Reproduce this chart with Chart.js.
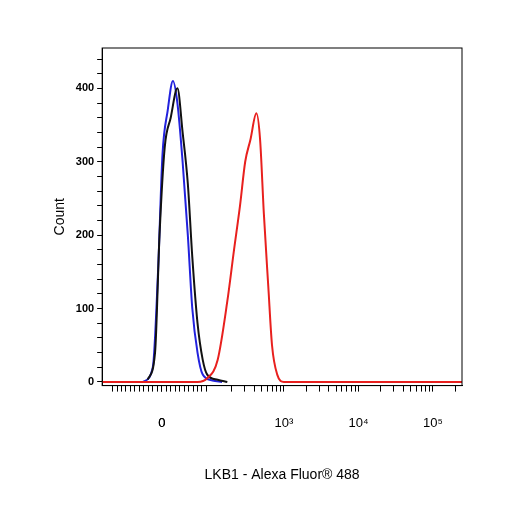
<!DOCTYPE html><html><head><script src="https://cdn.jsdelivr.net/npm/chart.js@4"></script>
<style>body{margin:0;background:#fff}#w{width:506px;height:506px}</style></head><body><div id="w"><canvas id="c"></canvas></div>
<script>
// x in decades of fluorescence (display units)
const blueX=[1.11,1.24,1.31,1.37,1.44,1.51,1.57,1.64,1.71,1.77,1.84,1.91,2.04,2.17];
const blueY=[0,20,150,310,370,410,380,300,200,100,40,10,2,0];
const blackX=[1.17,1.27,1.33,1.40,1.48,1.57,1.64,1.71,1.77,1.84,1.91,1.97,2.11,2.24];
const blackY=[3,40,200,320,360,400,340,270,170,80,30,10,3,0];
const redX=[1.84,1.97,2.11,2.24,2.33,2.41,2.48,2.55,2.63,2.68,2.73,2.79,2.84,2.91,3.0];
const redY=[0,5,30,110,180,240,300,330,366,330,230,130,50,10,0];
const xTickVals=[1.36,3,4,5];
const xTickLabels=['0','10³','10⁴','10⁵'];
const yTicks=[0,100,200,300,400];
const pts=(xs,ys)=>xs.map((x,i)=>({x,y:ys[i]}));
const minor=[];
[2,3,4].forEach(d=>{for(let k=2;k<=9;k++)minor.push(d+Math.log10(k));});
for(let v=0.7;v<2.0;v+=0.06)minor.push(+v.toFixed(2));
const allX=[...xTickVals,...minor,5+Math.log10(2)];
const frame={id:'frame',afterDraw(ch){const a=ch.chartArea,c=ch.ctx;c.save();c.strokeStyle='#000';c.lineWidth=1;c.strokeRect(a.left,a.top,a.right-a.left,a.bottom-a.top);c.restore();}};
const ds=(d,col)=>({data:d,borderColor:col,borderWidth:2,pointRadius:0,tension:0.25,cubicInterpolationMode:'monotone',fill:false});
new Chart(document.getElementById('c'),{type:'line',data:{datasets:[
ds([{x:0.56,y:0},...pts(redX,redY),{x:5.39,y:0}],'#e8201e'),
ds(pts(blackX,blackY),'#111'),
ds(pts(blueX,blueY),'#2222dd')]},
options:{animation:false,responsive:true,maintainAspectRatio:false,
layout:{padding:{left:48,right:44,top:48,bottom:18}},
plugins:{legend:{display:false},tooltip:{enabled:false}},
scales:{
x:{type:'linear',min:0.56,max:5.39,
afterBuildTicks:s=>{s.ticks=allX.map(v=>({value:v}));},
grid:{display:true,drawOnChartArea:false,tickLength:6,color:'#000'},border:{color:'#000'},
ticks:{autoSkip:false,maxRotation:0,padding:24,color:'#000',font:{family:'Liberation Sans',size:13},
callback:(v)=>{const i=xTickVals.indexOf(v);return i>=0?xTickLabels[i]:'';}},
title:{display:true,text:'LKB1 - Alexa Fluor® 488',color:'#000',padding:{top:12},font:{family:'Liberation Sans',size:14}}},
y:{min:-5,max:455,
afterBuildTicks:s=>{const t=[];for(let v=0;v<=440;v+=20)t.push({value:v});s.ticks=t;},
grid:{display:true,drawOnChartArea:false,tickLength:5,color:'#000'},border:{color:'#000'},
ticks:{autoSkip:false,color:'#000',font:{family:'Liberation Sans',size:11,weight:'bold'},
callback:v=>yTicks.includes(v)?String(v):''},
title:{display:true,text:'Count',color:'#000',font:{family:'Liberation Sans',size:14}}}}},
plugins:[frame]});
</script></body></html>
